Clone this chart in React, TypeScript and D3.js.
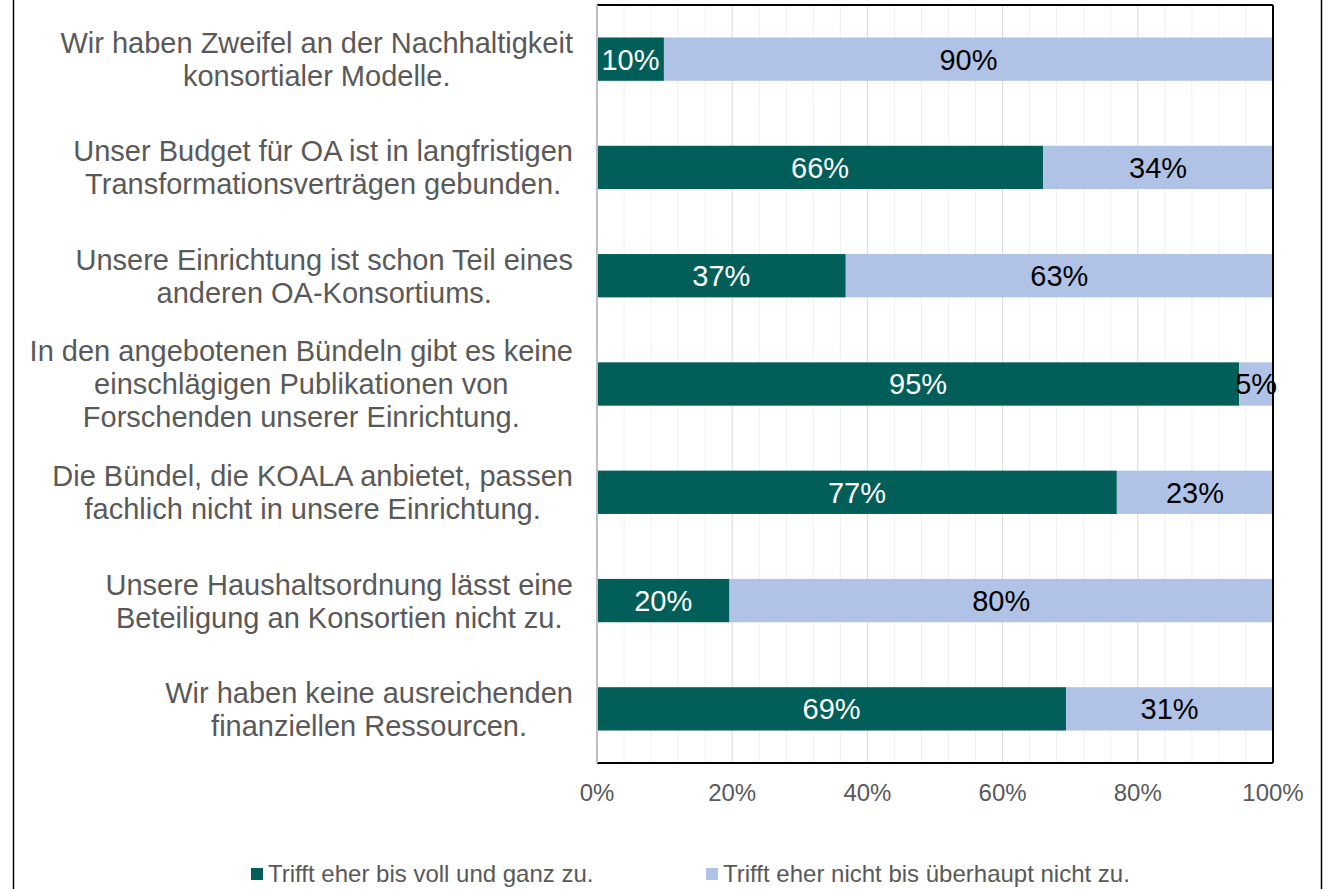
import React, { useEffect, useRef } from 'react';
import * as d3 from 'd3';

const categories = [
  ['Wir haben Zweifel an der Nachhaltigkeit', 'konsortialer Modelle.'],
  ['Unser Budget für OA ist in langfristigen', 'Transformationsverträgen gebunden.'],
  ['Unsere Einrichtung ist schon Teil eines', 'anderen OA-Konsortiums.'],
  ['In den angebotenen Bündeln gibt es keine', 'einschlägigen Publikationen von', 'Forschenden unserer Einrichtung.'],
  ['Die Bündel, die KOALA anbietet, passen', 'fachlich nicht in unsere Einrichtung.'],
  ['Unsere Haushaltsordnung lässt eine', 'Beteiligung an Konsortien nicht zu.'],
  ['Wir haben keine ausreichenden', 'finanziellen Ressourcen.'],
];
const agree = [9.9, 66, 36.8, 95, 76.9, 19.6, 69.4];
const disagree = agree.map(v => 100 - v);
const seriesNames = ['Trifft eher bis voll und ganz zu.', 'Trifft eher nicht bis überhaupt nicht zu.'];
const xTicks = [0, 20, 40, 60, 80, 100];

const colors = ['#015e58', '#b0c3e6'];

const App = () => {
  const ref = useRef<SVGSVGElement>(null);

  useEffect(() => {
    const svg = d3.select(ref.current);
    svg.selectAll('*').remove();

    const margin = { top: 5, right: 55, bottom: 126, left: 597 };
    const W = 1328, H = 889;
    const width = W - margin.left - margin.right;
    const height = H - margin.top - margin.bottom;
    const font = 'Liberation Sans, Arial, sans-serif';

    svg.append('rect').attr('width', W).attr('height', H).attr('fill', '#fff');
    // outer chart frame (sides only visible)
    svg.append('line').attr('x1', 13.5).attr('x2', 13.5).attr('y1', 0).attr('y2', H).attr('stroke', '#000').attr('stroke-width', 1.5);
    svg.append('line').attr('x1', 1321.5).attr('x2', 1321.5).attr('y1', 0).attr('y2', H).attr('stroke', '#000').attr('stroke-width', 1.5);

    const g = svg.append('g').attr('transform', `translate(${margin.left},${margin.top})`);

    const x = d3.scaleLinear().domain([0, 100]).range([0, width]);
    const y = d3.scaleBand<number>()
      .domain(d3.range(categories.length))
      .range([0, height])
      .paddingInner(0.6)
      .paddingOuter(0.3);

    // gridlines
    const minor = d3.range(4, 100, 4);
    g.selectAll('.grid')
      .data(minor)
      .enter()
      .append('line')
      .attr('x1', d => x(d)).attr('x2', d => x(d))
      .attr('y1', 0).attr('y2', height)
      .attr('stroke', d => (d % 20 === 0 ? '#d9d9d9' : '#efefef'))
      .attr('stroke-width', 1);

    const stack = d3.stack<number>().keys(['0', '1'])
      .value((i, key) => (key === '0' ? agree[i] : disagree[i]));
    const stacked = stack(d3.range(categories.length));

    stacked.forEach((layer, si) => {
      g.append('g')
        .selectAll('rect')
        .data(layer)
        .enter()
        .append('rect')
        .attr('x', d => x(d[0]))
        .attr('y', (d, i) => y(i)!)
        .attr('width', d => x(d[1]) - x(d[0]))
        .attr('height', y.bandwidth())
        .attr('fill', colors[si]);

      g.append('g')
        .selectAll('text')
        .data(layer)
        .enter()
        .append('text')
        .attr('x', d => (x(d[0]) + x(d[1])) / 2)
        .attr('y', (d, i) => y(i)! + y.bandwidth() / 2)
        .attr('dy', '0.36em')
        .attr('text-anchor', 'middle')
        .attr('font-family', font)
        .attr('font-size', 29)
        .attr('fill', si === 0 ? '#fff' : '#000')
        .text(d => `${Math.round(d[1] - d[0])}%`);
    });

    // plot border
    g.append('line').attr('x1', 0).attr('x2', width).attr('y1', 0).attr('y2', 0).attr('stroke', '#000').attr('stroke-width', 2);
    g.append('line').attr('x1', width).attr('x2', width).attr('y1', 0).attr('y2', height).attr('stroke', '#000').attr('stroke-width', 2);
    g.append('line').attr('x1', 0).attr('x2', width).attr('y1', height).attr('y2', height).attr('stroke', '#000').attr('stroke-width', 2);
    g.append('line').attr('x1', 0).attr('x2', 0).attr('y1', 0).attr('y2', height).attr('stroke', '#bfbfbf').attr('stroke-width', 2);

    // x axis labels
    g.append('g')
      .selectAll('text')
      .data(xTicks)
      .enter()
      .append('text')
      .attr('x', d => x(d))
      .attr('y', height + 38)
      .attr('text-anchor', 'middle')
      .attr('font-family', font)
      .attr('font-size', 24)
      .attr('fill', '#595959')
      .text(d => `${d}%`);

    // category labels: centered lines, block right-aligned
    const lineH = 33;
    categories.forEach((lines, i) => {
      const t = svg.append('text')
        .attr('font-family', font)
        .attr('font-size', 29)
        .attr('fill', '#595959')
        .attr('text-anchor', 'middle');
      const cy = margin.top + y(i)! + y.bandwidth() / 2;
      const y0 = cy - ((lines.length - 1) * lineH) / 2;
      const spans = lines.map((ln, j) =>
        t.append('tspan').attr('y', y0 + j * lineH).attr('dy', '0.36em').text(ln)
      );
      const maxW = d3.max(spans, s => (s.node() as SVGTSpanElement).getComputedTextLength()) || 0;
      const cx = 573 - maxW / 2;
      spans.forEach(s => s.attr('x', cx));
    });

    // legend
    const legendX = [251, 706];
    seriesNames.forEach((name, i) => {
      const lg = svg.append('g').attr('transform', `translate(${legendX[i]},882)`);
      lg.append('rect').attr('x', 0).attr('y', -14).attr('width', 12).attr('height', 12).attr('fill', colors[i]);
      lg.append('text')
        .attr('x', 17)
        .attr('y', 0)
        .attr('font-family', font)
        .attr('font-size', 24)
        .attr('fill', '#595959')
        .text(name);
    });
  }, []);

  return (
    <svg ref={ref} width={1328} height={889} style={{ display: 'block', position: 'absolute', left: 0, top: 0 }} />
  );
};

export default App;
